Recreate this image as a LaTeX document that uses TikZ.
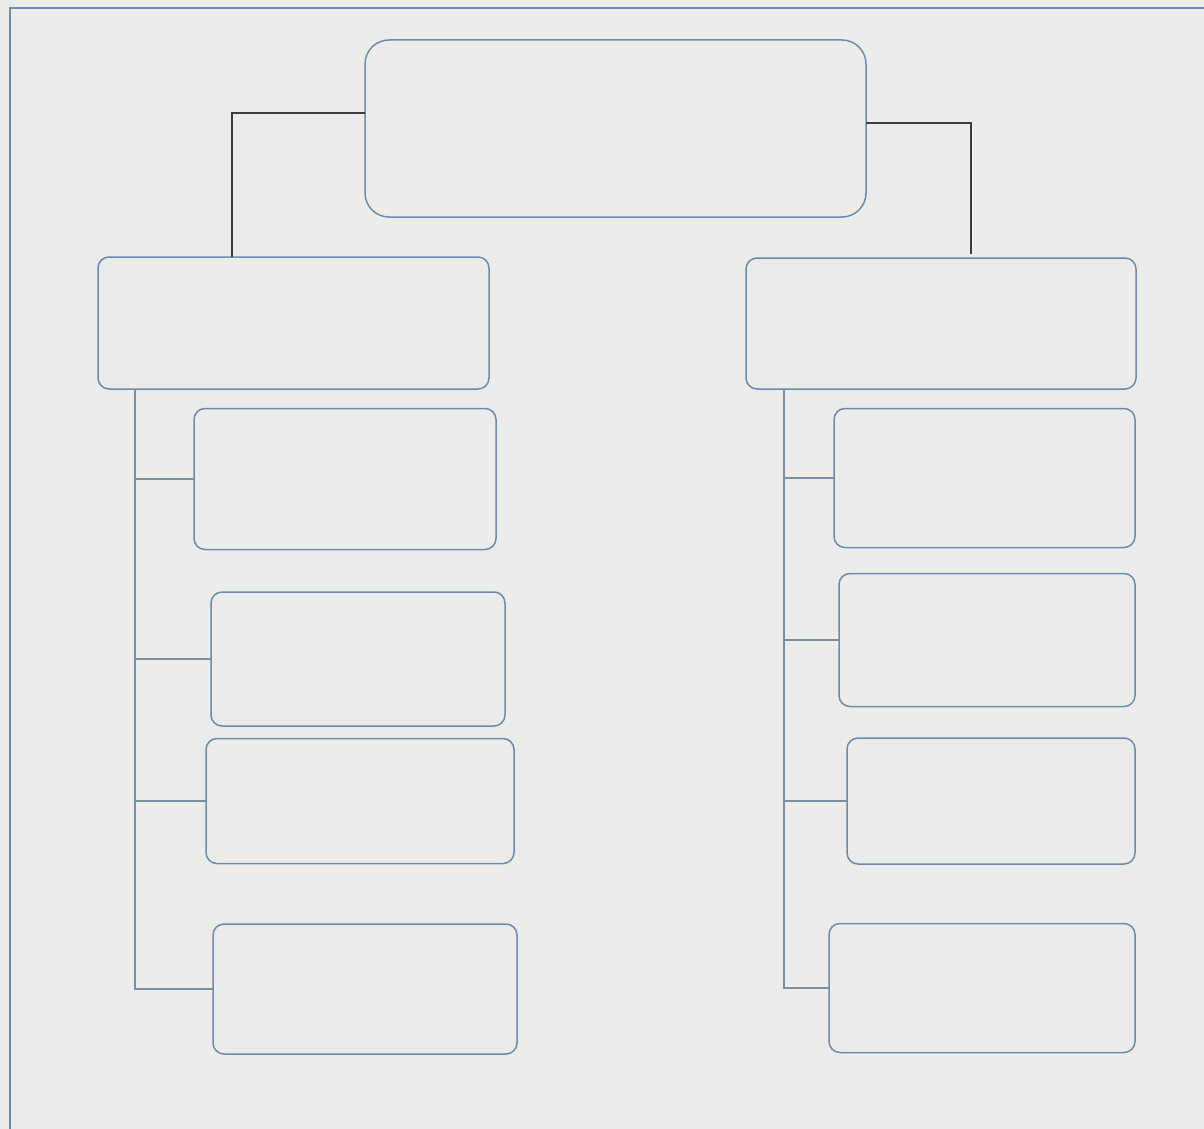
\documentclass[tikz,border=0pt]{standalone}
\usepackage{tikz}
\usepackage{xcolor}
\usetikzlibrary{positioning, calc}
\definecolor{paper}{HTML}{ECEDEB}
\definecolor{boxline}{HTML}{6C8CAC}
\definecolor{treeline}{HTML}{7A90A2}
\definecolor{topline}{HTML}{3C3E3E}

\begin{document}
\begin{tikzpicture}[
    x=1pt, y=-1pt,
    box/.style={rectangle, draw=boxline, line width=1.5pt, inner sep=0pt, outer sep=0pt, rounded corners=11pt},
    topbox/.style={box, rounded corners=24pt},
    link/.style={draw=topline, line width=1.5pt},
    branch/.style={draw=treeline, line width=1.8pt}
]
    % Page and frame
    \useasboundingbox (0,0) rectangle (1204,1129);
    \fill[paper] (0,0) rectangle (1204,1129);
    \begin{scope}
        \clip (0,0) rectangle (1204,1129);
        \draw[boxline, line width=2pt] (10,1140) -- (10,8) -- (1220,8);
    \end{scope}

    % Main blocks
    \node[topbox, minimum width=501pt, minimum height=177pt] (root) at (615.5,128.5) {};
    \node[box, minimum width=391pt, minimum height=132pt] (lmain) at (293.5,323) {};
    \node[box, minimum width=390pt, minimum height=131pt] (rmain) at (941,323.5) {};

    % Left children
    \node[box, minimum width=302pt, minimum height=141pt] (l1) at (345,479) {};
    \node[box, minimum width=294pt, minimum height=134pt] (l2) at (358,659) {};
    \node[box, minimum width=308pt, minimum height=125pt] (l3) at (360,801) {};
    \node[box, minimum width=304pt, minimum height=130pt] (l4) at (365,989) {};

    % Right children
    \node[box, minimum width=301pt, minimum height=139pt] (r1) at (984.5,478) {};
    \node[box, minimum width=296pt, minimum height=133pt] (r2) at (987,640) {};
    \node[box, minimum width=288pt, minimum height=126pt] (r3) at (991,801) {};
    \node[box, minimum width=306pt, minimum height=129pt] (r4) at (982,988) {};

    % Root links
    \coordinate (lhook) at (232,113);
    \coordinate (rhook) at (971,123);
    \draw[link] (root.west |- lhook) -- (lhook) -- (lhook |- lmain.north);
    \draw[link] (root.east |- rhook) -- (rhook) -- ($(rhook |- rmain.north)+(0,-4)$);

    % Left tree
    \coordinate (ltrunk) at (lmain.south -| 135,0);
    \draw[branch] (ltrunk) |- (l4.west);
    \foreach \n in {l1,l2,l3}
        \draw[branch] (ltrunk |- \n.west) -- (\n.west);

    % Right tree
    \coordinate (rtrunk) at (rmain.south -| 784,0);
    \draw[branch] (rtrunk) |- (r4.west);
    \foreach \n in {r1,r2,r3}
        \draw[branch] (rtrunk |- \n.west) -- (\n.west);

\end{tikzpicture}
\end{document}
